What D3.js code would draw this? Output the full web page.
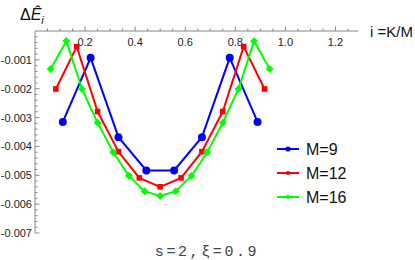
<!DOCTYPE html>
<html>
<head>
<meta charset="utf-8">
<script src="https://cdn.jsdelivr.net/npm/d3@7"></script>
<style>
  body { margin: 0; background: #fff; }
  text { font-family: "Liberation Sans", Arial, sans-serif; }
</style>
</head>
<body>
<div id="chart"></div>
<script>
// values, x = K/M
var m9 = [-0.00315, -0.00093, -0.00368, -0.00483, -0.00483, -0.00368, -0.00093, -0.00315];
var m12 = [-0.00201, -0.00054, -0.00279, -0.00418, -0.00509, -0.0054, -0.00509, -0.00418, -0.00279, -0.00054, -0.00201];
var m16 = [-0.00132, -0.00035, -0.00201, -0.00318, -0.0042, -0.00502, -0.00555, -0.00572,
           -0.00555, -0.00502, -0.0042, -0.00318, -0.00201, -0.00035, -0.00132];
var seriesNames = ["M=9", "M=12", "M=16"];
var seriesM = [9, 12, 16];
var seriesColors = ["#0000ff", "#ff0000", "#00ff00"];
var seriesShapes = ["circle", "square", "diamond"];
var xTicks = [0.2, 0.4, 0.6, 0.8, 1.0, 1.2];
var yTicks = [-0.001, -0.002, -0.003, -0.004, -0.005, -0.006, -0.007];

var width = 415, height = 260;

var svg = d3.select("#chart")
    .append("svg")
    .attr("width", width)
    .attr("height", height);

var x = d3.scaleLinear().domain([0, 1.29]).range([35, 358]);
var y = d3.scaleLinear().domain([-0.007, 0]).range([233, 31]);

// x axis (at y = 0, ticks pointing up)
var xMinor = d3.range(0.05, 1.29, 0.05).filter(function(d) {
    return Math.abs(d / 0.2 - Math.round(d / 0.2)) > 0.01;
});
var gx = svg.append("g").attr("transform", "translate(0," + y(0) + ")");
gx.append("line")
    .attr("x1", x(0)).attr("x2", x(1.29))
    .attr("stroke", "#888").attr("stroke-width", 1);
gx.selectAll(".major").data(xTicks).enter().append("line")
    .attr("x1", function(d) { return x(d); })
    .attr("x2", function(d) { return x(d); })
    .attr("y1", 0).attr("y2", -4.5)
    .attr("stroke", "#888");
gx.selectAll(".minor").data(xMinor).enter().append("line")
    .attr("x1", function(d) { return x(d); })
    .attr("x2", function(d) { return x(d); })
    .attr("y1", 0).attr("y2", -2.5)
    .attr("stroke", "#888");
gx.selectAll("text").data(xTicks).enter().append("text")
    .attr("x", function(d) { return x(d); })
    .attr("y", 15)
    .attr("text-anchor", "middle")
    .attr("font-size", "11px")
    .attr("fill", "#222")
    .text(function(d) { return d.toFixed(1); });

// y axis (ticks pointing right)
var yMinor = d3.range(1, 35).map(function(i) { return -i * 0.0002; })
    .filter(function(d, i) { return (i + 1) % 5 != 0; });
var gy = svg.append("g").attr("transform", "translate(" + x(0) + ",0)");
gy.append("line")
    .attr("y1", y(0)).attr("y2", y(-0.007))
    .attr("stroke", "#888").attr("stroke-width", 1);
gy.selectAll(".major").data(yTicks).enter().append("line")
    .attr("y1", function(d) { return y(d); })
    .attr("y2", function(d) { return y(d); })
    .attr("x1", 0).attr("x2", 4.5)
    .attr("stroke", "#888");
gy.selectAll(".minor").data(yMinor).enter().append("line")
    .attr("y1", function(d) { return y(d); })
    .attr("y2", function(d) { return y(d); })
    .attr("x1", 0).attr("x2", 2.5)
    .attr("stroke", "#888");
gy.selectAll("text").data(yTicks).enter().append("text")
    .attr("x", -3)
    .attr("y", function(d) { return y(d) + 4; })
    .attr("text-anchor", "end")
    .attr("font-size", "11px")
    .attr("fill", "#222")
    .text(function(d) { return d.toFixed(3); });

// axis labels
var yl = svg.append("text")
    .attr("x", 20).attr("y", 20)
    .attr("font-size", "16px")
    .attr("fill", "#111");
yl.append("tspan").text("Δ");
yl.append("tspan").attr("font-style", "italic").text("Ê");
yl.append("tspan").attr("font-style", "italic").attr("font-size", "11px")
    .attr("dy", 4).text("i");

svg.append("text")
    .attr("x", 370).attr("y", 37)
    .attr("font-size", "15px")
    .attr("fill", "#111")
    .text("i =K/M");

svg.append("text")
    .attr("x", 207).attr("y", 256)
    .attr("text-anchor", "middle")
    .attr("font-size", "15px")
    .attr("letter-spacing", "2.6px")
    .attr("fill", "#444")
    .style("font-family", "'Liberation Mono', 'DejaVu Sans Mono', monospace")
    .text("s=2,ξ=0.9");

// series
var allSeries = [m9, m12, m16];
var line = d3.line()
    .x(function(d) { return x(d.k); })
    .y(function(d) { return y(d.v); });

function marker(g, shape, color, cx, cy, sc) {
    sc = sc || 1;
    if (shape == "circle") {
        g.append("circle").attr("cx", cx).attr("cy", cy).attr("r", 4 * sc).attr("fill", color);
    } else if (shape == "square") {
        var h = 2.8 * sc;
        g.append("rect").attr("x", cx - h).attr("y", cy - h)
            .attr("width", 2 * h).attr("height", 2 * h).attr("fill", color);
    } else {
        var r = 4 * sc;
        g.append("path")
            .attr("d", "M" + cx + "," + (cy - r) + "L" + (cx + r) + "," + cy +
                "L" + cx + "," + (cy + r) + "L" + (cx - r) + "," + cy + "Z")
            .attr("fill", color);
    }
}

allSeries.forEach(function(vals, s) {
    var M = seriesM[s];
    var pts = vals.map(function(v, i) { return { k: (i + 1) / M, v: v }; });
    var g = svg.append("g");
    g.append("path")
        .datum(pts)
        .attr("d", line)
        .attr("fill", "none")
        .attr("stroke", seriesColors[s])
        .attr("stroke-width", 2);
    pts.forEach(function(p) {
        marker(g, seriesShapes[s], seriesColors[s], x(p.k), y(p.v));
    });
});

// legend
var legendY = [149, 173, 197];
seriesNames.forEach(function(name, s) {
    var g = svg.append("g");
    g.append("line")
        .attr("x1", 277).attr("x2", 299)
        .attr("y1", legendY[s]).attr("y2", legendY[s])
        .attr("stroke", seriesColors[s]).attr("stroke-width", 2);
    marker(g, seriesShapes[s], seriesColors[s], 288, legendY[s], 0.65);
    g.append("text")
        .attr("x", 306).attr("y", legendY[s] + 5.5)
        .attr("font-size", "16px")
        .attr("fill", "#111")
        .text(name);
});
</script>
</body>
</html>
